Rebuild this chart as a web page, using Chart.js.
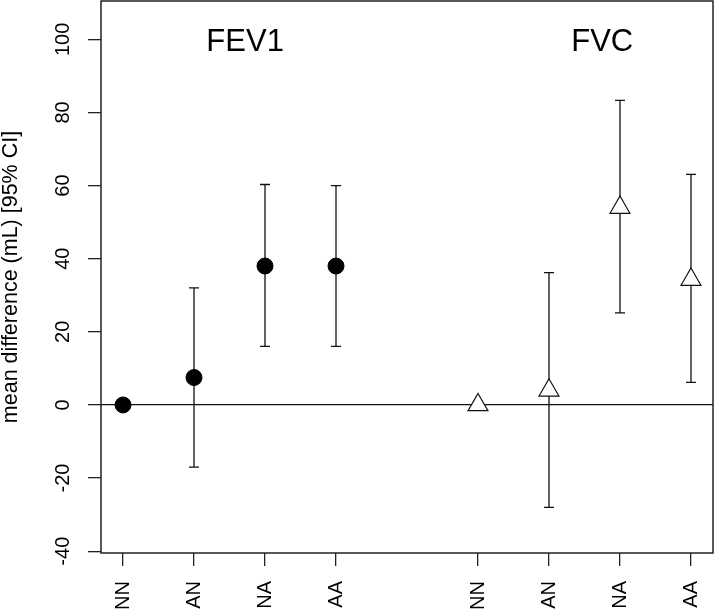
<!DOCTYPE html>
<html>
<head>
<meta charset="utf-8">
<script src="https://cdn.jsdelivr.net/npm/chart.js@4/dist/chart.umd.min.js"></script>
<style>
  html, body { margin: 0; padding: 0; background: #fff; }
  #wrap { width: 714px; height: 610px; }
</style>
</head>
<body>
<div id="wrap"><canvas id="c" width="714" height="610"></canvas></div>
<script>
// ---- data ----
const categories = ['NN', 'AN', 'NA', 'AA'];
const fev1Pos  = [1, 2, 3, 4];
const fvcPos   = [6, 7, 8, 9];
const fev1Mean = [0, 7.5, 38, 38];
const fev1Lo   = [null, -17, 16, 16];
const fev1Hi   = [null, 32, 60.3, 60];
const fvcMean  = [0, 4, 54, 34.3];
const fvcLo    = [null, -28, 25.2, 6.2];
const fvcHi    = [null, 36.2, 83.3, 63.1];
const yTicks   = [-40, -20, 0, 20, 40, 60, 80, 100];
const xTickPos = fev1Pos.concat(fvcPos);
const xTickLabels = categories.concat(categories);
const panelTitles = ['FEV1', 'FVC'];

const FONT = "'Liberation Sans', Arial, sans-serif";

const errorBars = {
  id: 'errorBars',
  beforeDatasetsDraw(chart) {
    const {ctx, scales: {x, y}} = chart;
    ctx.save();
    ctx.strokeStyle = '#111';
    ctx.lineWidth = 1.3;
    const groups = [[fev1Pos, fev1Lo, fev1Hi], [fvcPos, fvcLo, fvcHi]];
    groups.forEach(([pos, lo, hi]) => {
      pos.forEach((p, i) => {
        if (lo[i] == null || hi[i] == null) return;
        const px = x.getPixelForValue(p);
        const yl = y.getPixelForValue(lo[i]);
        const yh = y.getPixelForValue(hi[i]);
        ctx.beginPath();
        ctx.moveTo(px, yl); ctx.lineTo(px, yh);
        ctx.moveTo(px - 5, yl); ctx.lineTo(px + 5, yl);
        ctx.moveTo(px - 5, yh); ctx.lineTo(px + 5, yh);
        ctx.stroke();
      });
    });
    ctx.restore();
  }
};

const frameAndTitles = {
  id: 'frameAndTitles',
  afterDraw(chart) {
    const {ctx, chartArea: a, scales: {x, y}} = chart;
    ctx.save();
    ctx.strokeStyle = '#222';
    ctx.lineWidth = 1.5;
    ctx.strokeRect(a.left, a.top, a.right - a.left, a.bottom - a.top);
    ctx.fillStyle = '#000';
    ctx.font = '31px ' + FONT;
    ctx.textAlign = 'center';
    ctx.textBaseline = 'alphabetic';
    const ty = y.getPixelForValue(100) + 12;
    ctx.fillText(panelTitles[0], x.getPixelForValue(2.72), ty);
    ctx.fillText(panelTitles[1], x.getPixelForValue(7.75), ty);
    ctx.restore();
  }
};

function noPad(s) {
  s.paddingTop = 0; s.paddingBottom = 0; s.paddingLeft = 0; s.paddingRight = 0;
}

new Chart(document.getElementById('c'), {
  type: 'scatter',
  data: {
    datasets: [
      {
        label: 'FEV1',
        data: fev1Pos.map((p, i) => ({x: p, y: fev1Mean[i]})),
        pointStyle: 'circle',
        pointRadius: 8,
        pointHoverRadius: 8,
        backgroundColor: '#000',
        borderColor: '#000',
        borderWidth: 1
      },
      {
        label: 'FVC',
        data: fvcPos.map((p, i) => ({x: p, y: fvcMean[i]})),
        pointStyle: 'triangle',
        pointRadius: 11.5,
        pointHoverRadius: 11.5,
        backgroundColor: '#fff',
        borderColor: '#111',
        borderWidth: 1.2
      }
    ]
  },
  options: {
    responsive: false,
    animation: false,
    events: [],
    layout: { autoPadding: false, padding: { top: 1, right: 1, left: 0, bottom: 0 } },
    plugins: { legend: { display: false }, tooltip: { enabled: false } },
    scales: {
      x: {
        type: 'linear',
        min: 0.69,
        max: 9.31,
        afterBuildTicks: s => { s.ticks = xTickPos.map(v => ({value: v})); },
        afterFit: s => { s.height = 57; noPad(s); },
        border: { display: false },
        grid: {
          drawOnChartArea: false,
          color: '#222',
          tickColor: '#222',
          tickLength: 13,
          lineWidth: 1.3
        },
        ticks: {
          autoSkip: false,
          minRotation: 90,
          maxRotation: 90,
          padding: 15,
          color: '#000',
          font: { family: FONT, size: 20 },
          callback: v => xTickLabels[xTickPos.indexOf(v)]
        }
      },
      y: {
        type: 'linear',
        min: -40.5,
        max: 110.5,
        afterBuildTicks: s => { s.ticks = yTicks.map(v => ({value: v})); },
        afterFit: s => { s.width = 101; noPad(s); },
        border: { display: false },
        grid: {
          color: c => (c.tick && c.tick.value === 0) ? '#111' : 'rgba(0,0,0,0)',
          tickColor: '#222',
          tickLength: 13,
          lineWidth: 1.3
        },
        ticks: {
          minRotation: 90,
          maxRotation: 90,
          crossAlign: 'center',
          padding: 8,
          color: '#000',
          font: { family: FONT, size: 20 }
        },
        title: {
          display: true,
          text: 'mean difference (mL) [95% CI]',
          color: '#000',
          font: { family: FONT, size: 21.5, lineHeight: 1 },
          padding: { top: 0.5, bottom: 0 }
        }
      }
    }
  },
  plugins: [errorBars, frameAndTitles]
});
</script>
</body>
</html>
